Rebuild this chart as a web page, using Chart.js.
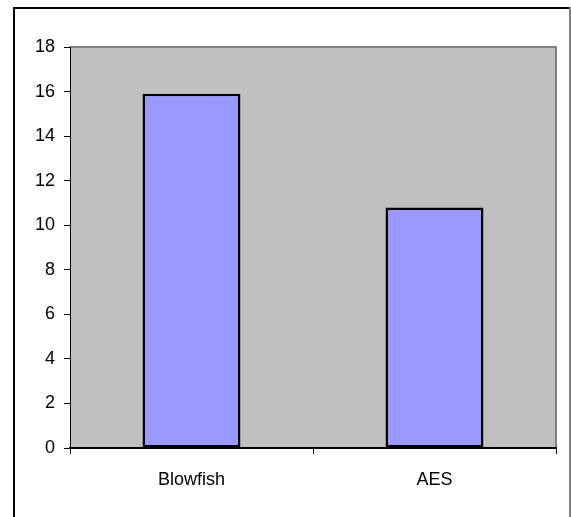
<!DOCTYPE html>
<html>
<head>
<meta charset="utf-8">
<script src="https://cdn.jsdelivr.net/npm/chart.js@4/dist/chart.umd.min.js"></script>
<style>
  html, body { margin: 0; padding: 0; background: #ffffff; }
  #wrap { width: 571px; height: 517px; }
</style>
</head>
<body>
<div id="wrap"><canvas id="c" width="571" height="517"></canvas></div>
<script>
// Encryption timing comparison
const categories = ['Blowfish', 'AES'];
const timings = [15.9, 10.8];
const yTicks = [0, 2, 4, 6, 8, 10, 12, 14, 16, 18];

const FONT = { family: '"Liberation Sans", Arial, sans-serif', size: 18 };

// Grey plot background with darker top/right edges, plus the outer frame
const framePlugin = {
  id: 'framePlugin',
  beforeDraw(chart) {
    const { ctx, chartArea: a } = chart;
    ctx.save();
    ctx.fillStyle = '#C0C0C0';
    ctx.fillRect(a.left, a.top, a.right - a.left, a.bottom - a.top);
    ctx.strokeStyle = '#808080';
    ctx.lineWidth = 2;
    ctx.beginPath();
    ctx.moveTo(a.left, a.top);
    ctx.lineTo(a.right, a.top);
    ctx.lineTo(a.right, a.bottom);
    ctx.stroke();
    ctx.restore();
  },
  afterDraw(chart) {
    const { ctx } = chart;
    ctx.save();
    ctx.fillStyle = '#000000';
    ctx.fillRect(13, 7, 558, 2);
    ctx.fillRect(13, 7, 2, 510);
    ctx.fillStyle = '#808080';
    ctx.fillRect(569, 7, 2, 510);
    ctx.restore();
  }
};

new Chart(document.getElementById('c'), {
  type: 'bar',
  data: {
    labels: categories,
    datasets: [{
      data: timings,
      backgroundColor: '#9999FF',
      borderColor: '#000000',
      borderWidth: 2.5,
      borderSkipped: false,
      barPercentage: 1,
      categoryPercentage: 0.403
    }]
  },
  options: {
    responsive: false,
    animation: false,
    layout: { padding: { top: 47, right: 15, left: 0, bottom: 0 } },
    plugins: { legend: { display: false }, tooltip: { enabled: false } },
    scales: {
      x: {
        offset: true,
        grid: {
          offset: true,
          drawOnChartArea: false,
          drawTicks: true,
          tickLength: 6,
          color: '#000000',
          lineWidth: 1
        },
        border: { color: '#000000', width: 2 },
        ticks: { color: '#000000', font: FONT, padding: 15, maxRotation: 0 },
        afterFit(scale) { scale.height = 69; }
      },
      y: {
        min: 0,
        max: 18,
        afterBuildTicks(scale) { scale.ticks = yTicks.map(v => ({ value: v })); },
        grid: {
          drawOnChartArea: false,
          drawTicks: true,
          tickLength: 6,
          color: '#000000',
          lineWidth: 1
        },
        border: { color: '#000000', width: 1 },
        ticks: { color: '#000000', font: FONT, padding: 9 },
        afterFit(scale) { scale.width = 70; }
      }
    }
  },
  plugins: [framePlugin]
});
</script>
</body>
</html>
